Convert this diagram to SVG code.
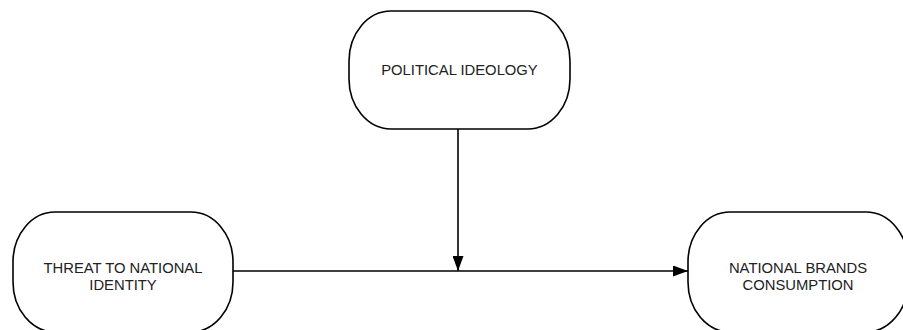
<svg xmlns="http://www.w3.org/2000/svg" width="903" height="330" viewBox="0 0 903 330">
<style>
.node{fill:#fff;stroke:#000;stroke-width:1.6}
.lbl{font-family:"Liberation Sans",Arial,sans-serif;font-size:14.8px;fill:#222;text-anchor:middle}
.edge{stroke:#000;stroke-width:1.6;fill:none}
</style>
<defs>
<marker id="arr" viewBox="0 0 15 11" refX="15" refY="5.5" markerWidth="15" markerHeight="11" markerUnits="userSpaceOnUse" orient="auto">
<path d="M0,0 L15,5.5 L0,11 Z" fill="#000"/>
</marker>
</defs>
<rect width="903" height="330" fill="#fff"/>
<g id="connectors">
<line class="edge" x1="233" y1="271" x2="688" y2="271" marker-end="url(#arr)"/>
<line class="edge" x1="458" y1="129" x2="458" y2="271" marker-end="url(#arr)"/>
</g>
<g id="political-ideology">
<rect class="node" x="349" y="11" width="221" height="118" rx="42" ry="50"/>
<text class="lbl" x="459.5" y="75">POLITICAL IDEOLOGY</text>
</g>
<g id="threat">
<rect class="node" x="13" y="212" width="220" height="120" rx="42" ry="50"/>
<text class="lbl" x="123" y="273">THREAT TO NATIONAL</text>
<text class="lbl" x="123" y="290">IDENTITY</text>
</g>
<g id="consumption">
<rect class="node" x="688" y="212" width="220" height="120" rx="42" ry="50"/>
<text class="lbl" x="798" y="273">NATIONAL BRANDS</text>
<text class="lbl" x="798" y="290">CONSUMPTION</text>
</g>
</svg>
